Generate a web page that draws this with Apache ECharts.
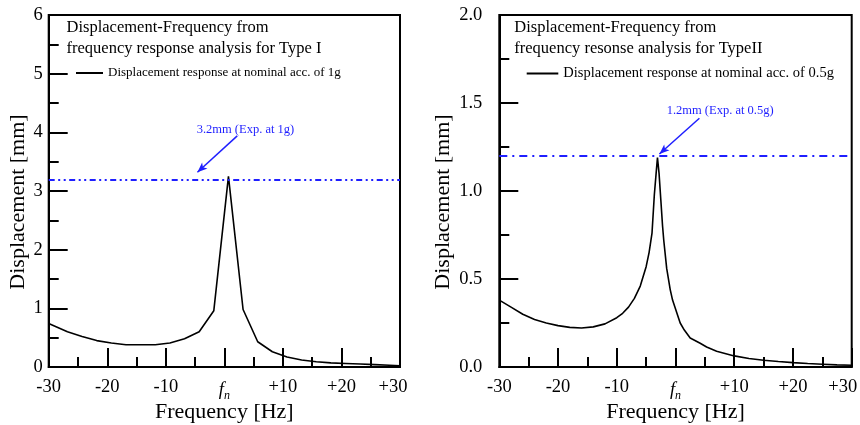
<!DOCTYPE html>
<html>
<head>
<meta charset="utf-8">
<script src="https://cdn.jsdelivr.net/npm/echarts@6/dist/echarts.min.js"></script>
<style>
  html, body { margin: 0; padding: 0; background: #fff; }
  #chart { width: 860px; height: 425px; }
</style>
</head>
<body>
<div id="chart"></div>
<script>
// Type I (nominal 1g) - frequency offset from fn [Hz] / displacement [mm]
var freqI = [-30, -26.8, -24.3, -21.8, -19.3, -16.8, -14.3, -11.8, -9.3, -6.8, -4.3, -1.8, 0.7,
             3.2, 5.7, 8.2, 10.7, 13.2, 15.7, 18.2, 20.7, 23.2, 25.7, 28.2, 30]
var dispI = [0.74, 0.6, 0.52, 0.45, 0.41, 0.38, 0.38, 0.38, 0.41, 0.48, 0.6, 0.96, 3.25,
             0.98, 0.43, 0.26, 0.17, 0.12, 0.09, 0.07, 0.06, 0.05, 0.04, 0.03, 0.02]

// Type II (nominal 0.5g)
var freqII = [-30, -28, -26, -24, -22, -20, -18, -16, -14, -12, -10, -9, -8, -7, -6, -5, -4.5, -4,
              -3.6, -3.3, -3.07, -2.8, -2.5, -2.2, -2, -1.5, -0.9, -0.5, 0.5, 0.8, 1.5, 2.5, 4.2,
              5.3, 7, 10, 12.5, 15, 17.5, 20, 22.5, 25, 27.5, 30]
var dispII = [0.38, 0.34, 0.30, 0.27, 0.25, 0.235, 0.225, 0.222, 0.228, 0.245, 0.28, 0.305, 0.34, 0.39,
              0.46, 0.57, 0.65, 0.76, 0.98, 1.10, 1.19, 1.10, 0.95, 0.80, 0.72, 0.56, 0.44, 0.38, 0.28,
              0.25, 0.21, 0.165, 0.135, 0.114, 0.09, 0.063, 0.048, 0.038, 0.031, 0.025, 0.02, 0.016,
              0.012, 0.01]

var expI = 3.2
var expII = 1.2

// annotation anchors in data space: text centre, arrow start, arrow end
var noteI = { text: '3.2mm (Exp. at 1g)', label: [3.6, 4.04], from: [2.2, 3.94], to: [-4.6, 3.32] }
var noteII = { text: '1.2mm (Exp. at 0.5g)', label: [7.6, 1.455], from: [4.07, 1.413], to: [-2.74, 1.21] }

var nameI = 'Displacement response at nominal acc. of 1g'
var nameII = 'Displacement response at nominal acc. of 0.5g'

var FONT = '"Liberation Serif", "Times New Roman", serif'
var BLUE = '#1f1fff'

function pairs(xs, ys) {
    return xs.map(function (x, i) { return [x, ys[i]] })
}

function xAxisOpt(gridIndex, lastShift) {
    return {
        gridIndex: gridIndex,
        type: 'value',
        min: -30,
        max: 30,
        interval: 10,
        name: 'Frequency [Hz]',
        nameLocation: 'middle',
        nameGap: 34,
        nameMoveOverlap: false,
        nameTextStyle: { color: '#000', fontSize: 22, fontFamily: FONT },
        splitLine: { show: false },
        axisLine: { show: true, onZero: false, lineStyle: { color: '#000', width: 2 } },
        axisTick: { show: true, inside: true, length: 19, lineStyle: { color: '#000', width: 2 } },
        minorTick: { show: true, splitNumber: 2, length: 10, lineStyle: { color: '#000', width: 2 } },
        axisLabel: {
            color: '#000',
            fontSize: 18.5,
            fontFamily: FONT,
            margin: 11,
            formatter: function (v) {
                if (v === 0) return '{f|f}{n|n}'
                if (v === 30) return '{last|+30}'
                return v > 0 ? '+' + v : String(v)
            },
            rich: {
                f: { fontStyle: 'italic', fontSize: 18.5, fontFamily: FONT, color: '#000' },
                n: { fontStyle: 'italic', fontSize: 12, fontFamily: FONT, color: '#000', padding: [12, 0, 0, 0] },
                last: { fontSize: 18.5, fontFamily: FONT, color: '#000', padding: [0, lastShift, 0, 0] }
            }
        }
    }
}

function yAxisOpt(gridIndex, max, interval, digits, margin) {
    return {
        gridIndex: gridIndex,
        type: 'value',
        min: 0,
        max: max,
        interval: interval,
        splitLine: { show: false },
        axisLine: { show: true, onZero: false, lineStyle: { color: '#000', width: 2 } },
        axisTick: { show: true, inside: true, length: 19, lineStyle: { color: '#000', width: 2 } },
        minorTick: { show: true, splitNumber: 2, length: 10, lineStyle: { color: '#000', width: 2 } },
        axisLabel: {
            color: '#000',
            fontSize: 18.5,
            fontFamily: FONT,
            margin: margin,
            formatter: function (v) { return v.toFixed(digits) }
        }
    }
}

function seriesOpt(name, idx, data, exp, dash, note) {
    return {
        name: name,
        type: 'line',
        xAxisIndex: idx,
        yAxisIndex: idx,
        data: data,
        symbol: 'none',
        smooth: false,
        lineStyle: { color: '#000', width: 1.6 },
        itemStyle: { color: '#000' },
        markLine: {
            silent: true,
            animation: false,
            symbol: ['none', 'none'],
            label: { show: false },
            lineStyle: { color: BLUE, width: 1.5, type: 'solid' },
            data: [
                {
                    yAxis: exp,
                    lineStyle: { color: BLUE, width: 2, type: dash }
                },
                [
                    { coord: note.from, symbol: 'none' },
                    { coord: note.to, symbol: 'arrow', symbolSize: [6, 10] }
                ]
            ]
        },
        markPoint: {
            silent: true,
            animation: false,
            symbol: 'circle',
            symbolSize: 1,
            itemStyle: { color: 'rgba(0,0,0,0)' },
            label: {
                show: true,
                position: 'inside',
                color: BLUE,
                fontSize: 12.5,
                fontFamily: FONT,
                formatter: note.text
            },
            data: [{ coord: note.label }]
        }
    }
}

var chart = echarts.init(document.getElementById('chart'))
var option = {
    animation: false,
    backgroundColor: '#fff',
    textStyle: { fontFamily: FONT },
    grid: [
        { left: 48.7, top: 15, width: 351.3, height: 352, outerBoundsMode: 'none', containLabel: false,
          show: true, borderColor: '#000', borderWidth: 2, backgroundColor: 'transparent' },
        { left: 499.3, top: 15, width: 352.4, height: 352, outerBoundsMode: 'none', containLabel: false,
          show: true, borderColor: '#000', borderWidth: 2, backgroundColor: 'transparent' }
    ],
    title: [
        {
            text: 'Displacement-Frequency from\nfrequency response analysis for Type I',
            left: 66.5, top: 17.5, padding: 0,
            textStyle: { color: '#000', fontSize: 16.5, fontWeight: 'normal', fontFamily: FONT, lineHeight: 20.6 }
        },
        {
            text: 'Displacement-Frequency from\nfrequency resonse analysis for TypeII',
            left: 514.3, top: 17.5, padding: 0,
            textStyle: { color: '#000', fontSize: 16.5, fontWeight: 'normal', fontFamily: FONT, lineHeight: 20.6 }
        }
    ],
    legend: [
        {
            data: [{ name: nameI, icon: 'rect' }],
            left: 76, top: 66.5, padding: 0,
            itemWidth: 27, itemHeight: 2, itemGap: 0,
            textStyle: { color: '#000', fontSize: 13, fontFamily: FONT },
            selectedMode: false
        },
        {
            data: [{ name: nameII, icon: 'rect' }],
            left: 526.7, top: 66, padding: 0,
            itemWidth: 31.6, itemHeight: 2, itemGap: 0,
            textStyle: { color: '#000', fontSize: 14.5, fontFamily: FONT },
            selectedMode: false
        }
    ],
    xAxis: [xAxisOpt(0, 14), xAxisOpt(1, 18)],
    yAxis: [yAxisOpt(0, 6, 1, 0, 6), yAxisOpt(1, 2, 0.5, 1, 17)],
    series: [
        seriesOpt(nameI, 0, pairs(freqI, dispI), expI, [6, 3.5, 2, 3.5, 2, 3.5], noteI),
        seriesOpt(nameII, 1, pairs(freqII, dispII), expII, [8, 5, 2, 5], noteII)
    ],
    graphic: [
        {
            type: 'text', x: 18, y: 202, rotation: Math.PI / 2,
            style: { text: 'Displacement [mm]', fill: '#000', font: '22px ' + FONT, align: 'center', verticalAlign: 'middle' }
        },
        {
            type: 'text', x: 443, y: 202, rotation: Math.PI / 2,
            style: { text: 'Displacement [mm]', fill: '#000', font: '22px ' + FONT, align: 'center', verticalAlign: 'middle' }
        }
    ]
}
chart.setOption(option)
</script>
</body>
</html>
